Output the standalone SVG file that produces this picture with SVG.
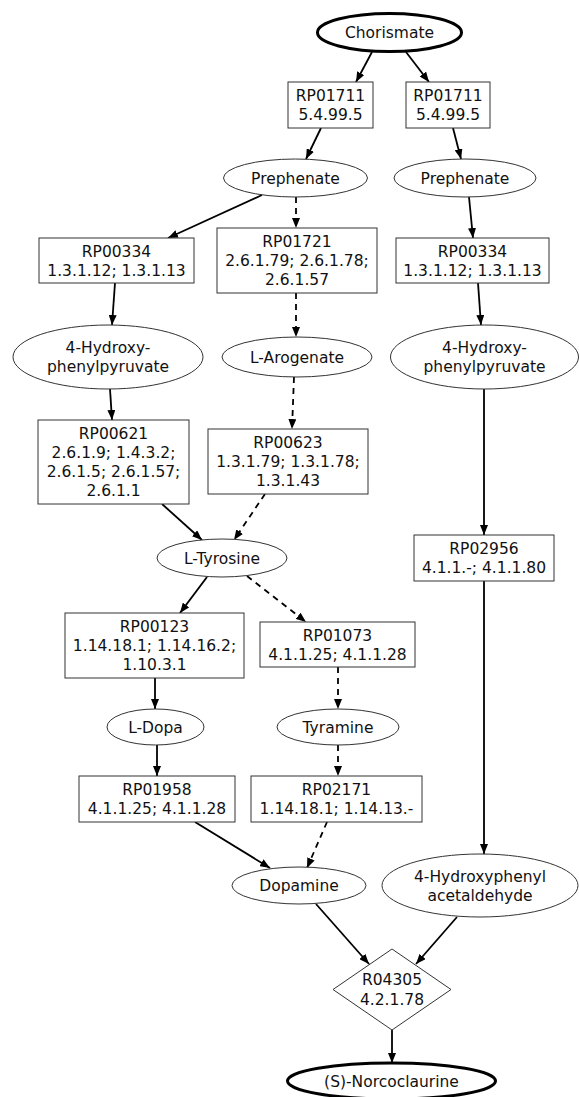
<svg xmlns="http://www.w3.org/2000/svg" width="579" height="1097" viewBox="0 0 579 1097">
  <defs>
    <marker id="arrow" markerUnits="userSpaceOnUse" markerWidth="10" markerHeight="8" refX="10" refY="4" orient="auto">
      <path d="M0,0 L10,4 L0,8 z" fill="#000"/>
    </marker>
    <style>
      .node { fill: #fff; stroke: #333; stroke-width: 1; }
      .term { fill: #fff; stroke: #000; stroke-width: 3; }
      text { font-family: "DejaVu Sans", "Liberation Sans", sans-serif; font-size: 15.5px; fill: #111; text-anchor: middle; }
      .edge { fill: none; stroke: #000; stroke-width: 1.8; marker-end: url(#arrow); }
      .dash { stroke-dasharray: 6,5; }
    </style>
  </defs>
  <rect width="579" height="1097" fill="#fff"/>

  <g id="connectors">
    <line class="edge" x1="372" y1="52" x2="356" y2="82"/>
    <line class="edge" x1="406" y1="52" x2="429" y2="82"/>
    <line class="edge" x1="321" y1="128" x2="306" y2="159"/>
    <line class="edge" x1="453" y1="128" x2="461" y2="159"/>
    <line class="edge" x1="262" y1="195" x2="168" y2="238"/>
    <line class="edge dash" x1="296" y1="197" x2="296" y2="228"/>
    <line class="edge" x1="469" y1="197" x2="473" y2="238"/>
    <line class="edge" x1="115" y1="283" x2="112" y2="325"/>
    <line class="edge dash" x1="296" y1="293" x2="296" y2="337"/>
    <line class="edge" x1="478" y1="283" x2="481" y2="325"/>
    <line class="edge" x1="110" y1="389" x2="112" y2="420"/>
    <line class="edge dash" x1="294" y1="377" x2="292" y2="429"/>
    <line class="edge" x1="484" y1="389" x2="484" y2="535"/>
    <line class="edge" x1="162" y1="504" x2="202" y2="540"/>
    <line class="edge dash" x1="265" y1="494" x2="234" y2="540"/>
    <line class="edge" x1="207" y1="577" x2="180" y2="613"/>
    <line class="edge dash" x1="247" y1="576" x2="306" y2="622"/>
    <line class="edge" x1="484" y1="581" x2="484" y2="854"/>
    <line class="edge" x1="155" y1="678" x2="155" y2="709"/>
    <line class="edge dash" x1="338" y1="667" x2="338" y2="709"/>
    <line class="edge" x1="157" y1="745" x2="157" y2="776"/>
    <line class="edge dash" x1="338" y1="745" x2="338" y2="776"/>
    <line class="edge" x1="195" y1="822" x2="270" y2="868"/>
    <line class="edge dash" x1="327" y1="822" x2="307" y2="868"/>
    <line class="edge" x1="316" y1="904" x2="369" y2="964"/>
    <line class="edge" x1="457" y1="917" x2="416" y2="964"/>
    <line class="edge" x1="392" y1="1030" x2="392" y2="1063"/>
  </g>

  <g id="chorismate">
    <ellipse class="term" cx="389.5" cy="32.5" rx="72" ry="19"/>
    <text x="389.5" y="38">Chorismate</text>
  </g>

  <g id="rp01711-a">
    <rect class="node" x="288" y="82" width="85" height="46"/>
    <text x="330.5" y="101">RP01711</text>
    <text x="330.5" y="120">5.4.99.5</text>
  </g>
  <g id="rp01711-b">
    <rect class="node" x="406" y="82" width="84" height="46"/>
    <text x="448" y="101">RP01711</text>
    <text x="448" y="120">5.4.99.5</text>
  </g>

  <g id="prephenate-a">
    <ellipse class="node" cx="295.5" cy="178" rx="72" ry="19"/>
    <text x="295.5" y="183.5">Prephenate</text>
  </g>
  <g id="prephenate-b">
    <ellipse class="node" cx="465" cy="178" rx="71" ry="19"/>
    <text x="465" y="183.5">Prephenate</text>
  </g>

  <g id="rp00334-a">
    <rect class="node" x="39" y="238" width="155" height="45"/>
    <text x="116.5" y="256.5">RP00334</text>
    <text x="116.5" y="275.5">1.3.1.12; 1.3.1.13</text>
  </g>
  <g id="rp01721">
    <rect class="node" x="217" y="228" width="160" height="65"/>
    <text x="297" y="247">RP01721</text>
    <text x="297" y="266">2.6.1.79; 2.6.1.78;</text>
    <text x="297" y="285">2.6.1.57</text>
  </g>
  <g id="rp00334-b">
    <rect class="node" x="396" y="238" width="153" height="45"/>
    <text x="472.5" y="256.5">RP00334</text>
    <text x="472.5" y="275.5">1.3.1.12; 1.3.1.13</text>
  </g>

  <g id="hpp-a">
    <ellipse class="node" cx="108" cy="357" rx="95" ry="32"/>
    <text x="108" y="353">4-Hydroxy-</text>
    <text x="108" y="372">phenylpyruvate</text>
  </g>
  <g id="arogenate">
    <ellipse class="node" cx="297" cy="357" rx="75" ry="20"/>
    <text x="297" y="362.5">L-Arogenate</text>
  </g>
  <g id="hpp-b">
    <ellipse class="node" cx="484.5" cy="357" rx="94" ry="32"/>
    <text x="484.5" y="353">4-Hydroxy-</text>
    <text x="484.5" y="372">phenylpyruvate</text>
  </g>

  <g id="rp00621">
    <rect class="node" x="38" y="420" width="151" height="84"/>
    <text x="113.5" y="439">RP00621</text>
    <text x="113.5" y="458">2.6.1.9; 1.4.3.2;</text>
    <text x="113.5" y="477">2.6.1.5; 2.6.1.57;</text>
    <text x="113.5" y="496">2.6.1.1</text>
  </g>
  <g id="rp00623">
    <rect class="node" x="208" y="429" width="160" height="65"/>
    <text x="288" y="448">RP00623</text>
    <text x="288" y="467">1.3.1.79; 1.3.1.78;</text>
    <text x="288" y="486">1.3.1.43</text>
  </g>
  <g id="rp02956">
    <rect class="node" x="414" y="535" width="140" height="46"/>
    <text x="484" y="554">RP02956</text>
    <text x="484" y="573">4.1.1.-; 4.1.1.80</text>
  </g>

  <g id="tyrosine">
    <ellipse class="node" cx="222" cy="558" rx="65" ry="19"/>
    <text x="222" y="563.5">L-Tyrosine</text>
  </g>

  <g id="rp00123">
    <rect class="node" x="65" y="613" width="179" height="65"/>
    <text x="154.5" y="632">RP00123</text>
    <text x="154.5" y="651">1.14.18.1; 1.14.16.2;</text>
    <text x="154.5" y="670">1.10.3.1</text>
  </g>
  <g id="rp01073">
    <rect class="node" x="260" y="622" width="155" height="45"/>
    <text x="337.5" y="640.5">RP01073</text>
    <text x="337.5" y="659.5">4.1.1.25; 4.1.1.28</text>
  </g>

  <g id="l-dopa">
    <ellipse class="node" cx="155.5" cy="727" rx="48.5" ry="18"/>
    <text x="155.5" y="732.5">L-Dopa</text>
  </g>
  <g id="tyramine">
    <ellipse class="node" cx="338" cy="727" rx="61" ry="18"/>
    <text x="338" y="732.5">Tyramine</text>
  </g>

  <g id="rp01958">
    <rect class="node" x="79" y="776" width="156" height="46"/>
    <text x="157" y="795">RP01958</text>
    <text x="157" y="814">4.1.1.25; 4.1.1.28</text>
  </g>
  <g id="rp02171">
    <rect class="node" x="251" y="776" width="171" height="46"/>
    <text x="336.5" y="795">RP02171</text>
    <text x="336.5" y="814">1.14.18.1; 1.14.13.-</text>
  </g>

  <g id="dopamine">
    <ellipse class="node" cx="299" cy="885.5" rx="67" ry="18.5"/>
    <text x="299" y="891">Dopamine</text>
  </g>
  <g id="hpaa">
    <ellipse class="node" cx="480" cy="885.5" rx="98" ry="31.5"/>
    <text x="480" y="881.5">4-Hydroxyphenyl</text>
    <text x="480" y="900.5">acetaldehyde</text>
  </g>

  <g id="r04305">
    <polygon class="node" points="392,949 451,989.5 392,1030 333,989.5"/>
    <text x="392" y="985">R04305</text>
    <text x="392" y="1005">4.2.1.78</text>
  </g>

  <g id="norcoclaurine">
    <ellipse class="term" cx="391.5" cy="1081" rx="104" ry="18"/>
    <text x="391.5" y="1086.5">(S)-Norcoclaurine</text>
  </g>
</svg>
